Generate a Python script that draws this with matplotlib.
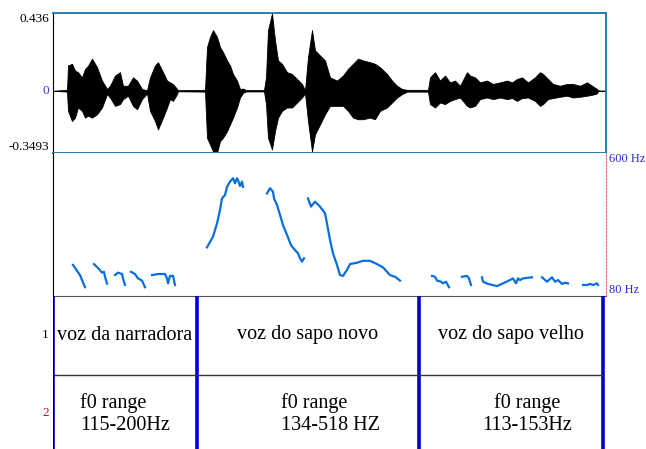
# Waveform + f0 contour + text grid (Praat style picture)

import numpy as np
import matplotlib.pyplot as plt
import matplotlib.transforms as mtransforms

# waveform envelope (time in s, upper / lower amplitude)
wave_t = [0.00, 0.14, 0.15, 0.19, 0.22, 0.25, 0.29, 0.32, 0.35, 0.39, 0.44, 0.49, 0.54, 0.57,
          0.62, 0.67, 0.70, 0.75, 0.80, 0.84, 0.89, 0.94, 0.97, 1.02, 1.05, 1.10, 1.14, 1.17,
          1.20, 1.24, 1.25, 1.52, 1.54, 1.57, 1.60, 1.64, 1.67, 1.70, 1.74, 1.77, 1.80, 1.84,
          1.87, 1.90, 1.93, 2.11, 2.13, 2.15, 2.19, 2.22, 2.25, 2.29, 2.34, 2.39, 2.44, 2.49,
          2.52, 2.55, 2.59, 2.62, 2.67, 2.72, 2.77, 2.84, 2.90, 2.95, 3.00, 3.05, 3.10, 3.17,
          3.22, 3.27, 3.34, 3.39, 3.44, 3.49, 3.54, 3.75, 3.77, 3.82, 3.87, 3.92, 3.97, 4.02,
          4.07, 4.14, 4.17, 4.22, 4.27, 4.34, 4.40, 4.47, 4.54, 4.59, 4.64, 4.69, 4.75, 4.82,
          4.87, 4.90, 4.95, 5.00, 5.07, 5.14, 5.20, 5.27, 5.34, 5.39, 5.44, 5.45, 5.53]
wave_top = [0.0, 0.005, 0.142, 0.151, 0.113, 0.104, 0.075, 0.123, 0.140, 0.180, 0.132, 0.057, 0.010, 0.028,
            0.085, 0.104, 0.028, 0.028, 0.075, 0.057, 0.010, 0.002, 0.075, 0.142, 0.160, 0.104, 0.057, 0.047,
            0.038, 0.010, 0.003, 0.005, 0.245, 0.302, 0.340, 0.302, 0.245, 0.217, 0.170, 0.142, 0.094, 0.057,
            0.010, 0.012, 0.004, 0.004, 0.075, 0.340, 0.434, 0.283, 0.170, 0.151, 0.104, 0.094, 0.066, 0.038,
            0.002, 0.189, 0.340, 0.226, 0.198, 0.170, 0.075, 0.057, 0.085, 0.123, 0.151, 0.180, 0.170, 0.160,
            0.151, 0.132, 0.094, 0.057, 0.028, 0.010, 0.005, 0.005, 0.075, 0.104, 0.057, 0.085, 0.047, 0.057,
            0.028, 0.104, 0.085, 0.075, 0.047, 0.057, 0.038, 0.047, 0.057, 0.047, 0.066, 0.075, 0.047, 0.075,
            0.104, 0.094, 0.066, 0.038, 0.028, 0.038, 0.038, 0.028, 0.047, 0.028, 0.010, 0.002, 0.0]
wave_bot = [0.0, -0.005, -0.113, -0.170, -0.151, -0.094, -0.113, -0.151, -0.140, -0.151, -0.132, -0.094, -0.019, -0.038,
            -0.085, -0.075, -0.047, -0.028, -0.085, -0.104, -0.047, -0.015, -0.113, -0.170, -0.217, -0.151, -0.094, -0.047,
            -0.057, -0.019, -0.003, -0.005, -0.264, -0.302, -0.340, -0.349, -0.283, -0.264, -0.227, -0.189, -0.151, -0.094,
            -0.038, -0.012, -0.004, -0.004, -0.075, -0.264, -0.330, -0.227, -0.151, -0.113, -0.094, -0.094, -0.066, -0.038,
            -0.015, -0.170, -0.340, -0.245, -0.189, -0.132, -0.085, -0.085, -0.085, -0.113, -0.151, -0.160, -0.160, -0.151,
            -0.160, -0.113, -0.094, -0.066, -0.038, -0.019, -0.005, -0.005, -0.075, -0.094, -0.066, -0.075, -0.057, -0.047,
            -0.038, -0.085, -0.094, -0.085, -0.047, -0.038, -0.047, -0.038, -0.047, -0.041, -0.057, -0.041, -0.038, -0.057,
            -0.085, -0.075, -0.047, -0.041, -0.034, -0.028, -0.038, -0.034, -0.028, -0.023, -0.015, -0.002, 0.0]

# f0 contour (Hz), nan = unvoiced gap
nan = np.nan
f0_t = [0.20, 0.27, 0.32, nan,
        0.41, 0.46, 0.49, 0.51, 0.52, 0.54, nan,
        0.62, 0.65, 0.69, 0.70, 0.72, nan,
        0.78, 0.82, 0.85, 0.89, 0.92, nan,
        0.99, 1.05, 1.12, 1.14, 1.15, 1.17, 1.20, 1.22, nan,
        1.54, 1.60, 1.64, 1.67, 1.69, 1.72, 1.74, 1.77, 1.80, 1.82, 1.84, 1.85, 1.87, 1.89, 1.90, nan,
        2.14, 2.17, 2.20, 2.21, 2.24, 2.27, 2.30, 2.34, 2.38, 2.42, 2.45, 2.47, 2.49, 2.50, 2.51, nan,
        2.55, 2.58, 2.62, 2.67, 2.72, 2.74, 2.77, 2.80, 2.84, 2.87, 2.90, 2.94, 2.97, 3.04, 3.10,
        3.17, 3.24, 3.30, 3.37, 3.42, 3.47, nan,
        3.79, 3.82, 3.84, 3.88, 3.90, 3.93, 3.96, nan,
        4.09, 4.14, 4.16, 4.18, nan,
        4.29, 4.30, 4.35, 4.44, 4.50, 4.57, 4.60, 4.63, 4.65, 4.67, 4.70, 4.79, nan,
        4.89, 4.94, 4.99, 5.02, 5.05, 5.09, 5.12, 5.15, nan,
        5.30, 5.34, 5.37, 5.40, 5.44, 5.45]
f0_hz = [193, 156, 112, nan,
         196, 178, 165, 168, 150, 125, nan,
         156, 165, 160, 144, 120, nan,
         168, 160, 144, 136, 112, nan,
         156, 160, 160, 144, 126, 153, 153, 120, nan,
         257, 296, 344, 393, 435, 447, 477, 496, 508, 490, 508, 502, 480, 496, 477, nan,
         453, 472, 459, 435, 411, 375, 338, 302, 265, 247, 235, 217, 205, 211, 217, nan,
         435, 405, 423, 405, 381, 344, 284, 235, 193, 156, 153, 175, 196, 201, 208,
         208, 196, 184, 156, 150, 136, nan,
         153, 150, 136, 132, 126, 132, 112, nan,
         150, 153, 144, 120, nan,
         148, 132, 124, 116, 126, 138, 144, 126, 144, 138, 144, 148, nan,
         148, 132, 148, 132, 138, 124, 128, 126, nan,
         120, 120, 124, 120, 126, 120]

# text grid
bounds = [0.0, 1.44, 3.66, 5.50]
tier1_labels = ["voz da narradora", "voz do sapo novo", "voz do sapo velho"]
tier2_labels = ["f0 range\n115-200Hz", "f0 range\n134-518 HZ", "f0 range\n113-153Hz"]
tier2_x = [0.72, 2.775, 4.745]

TMAX = 5.53
W, H = 646, 449
serif = ["Liberation Serif", "DejaVu Serif"]
teal = "#2a7fa8"

fig = plt.figure(figsize=(W / 100, H / 100), dpi=100)

def px_axes(x0, y0, x1, y1):
    return fig.add_axes([x0 / W, 1 - y1 / H, (x1 - x0) / W, (y1 - y0) / H])

# --- waveform
ax = px_axes(53, 13, 606, 153)
ax.fill_between(wave_t, wave_bot, wave_top, color="black", lw=0.6, edgecolor="black")
ax.axhline(0, color="#222222", lw=0.6, zorder=0)
ax.set_xlim(0, TMAX)
ax.set_ylim(-0.3493, 0.436)
ax.set_xticks([])
ax.set_yticks([])
for s in ["top", "bottom", "right"]:
    ax.spines[s].set_color(teal)
    ax.spines[s].set_linewidth(1.4)
ax.spines["left"].set_color("black")
tr = mtransforms.blended_transform_factory(ax.transAxes, ax.transData)
ax.text(-0.007, 0.436, "0.436", transform=tr, ha="right", va="top", fontsize=9.5, family=serif)
ax.text(-0.007, 0, "0", transform=tr, ha="right", va="center", fontsize=9.5, family=serif, color="#3a3ad0")
ax.text(-0.007, -0.3493, "-0.3493", transform=tr, ha="right", va="bottom", fontsize=9.5, family=serif)

# --- pitch
ax2 = px_axes(53, 153, 606, 296)
ax2.plot(f0_t, f0_hz, color="#0a6fdc", lw=1.6)
ax2.set_xlim(0, TMAX)
ax2.set_ylim(80, 600)
ax2.set_xticks([])
ax2.set_yticks([])
ax2.spines["top"].set_visible(False)
ax2.spines["bottom"].set_color("#555555")
ax2.spines["right"].set_color("#e07070")
ax2.spines["right"].set_linestyle((0, (1.5, 1.5)))
tr2 = mtransforms.blended_transform_factory(ax2.transAxes, ax2.transData)
ax2.text(1.005, 600, "600 Hz", transform=tr2, ha="left", va="top", fontsize=9, family=serif, color="#2a2ad0")
ax2.text(1.005, 80, "80 Hz", transform=tr2, ha="left", va="bottom", fontsize=9, family=serif, color="#2a2ad0")

# --- text grid (y in pixels below the pitch panel)
ax3 = px_axes(53, 296, 606, 449)
ax3.set_xlim(0, TMAX)
ax3.set_ylim(153, 0)
ax3.axis("off")
ax3.vlines(bounds, 0, 153, color="#0000d0", lw=2.6)
ax3.hlines(79, bounds[0], bounds[-1], color="#333333", lw=1)
ax3.axvline(0, color="black", lw=0.8)
mids = [(a + b) / 2 for a, b in zip(bounds[:-1], bounds[1:])]
for xm, lab in zip(mids, tier1_labels):
    ax3.text(xm, 39, lab, ha="center", va="center", fontsize=14.5, family=serif)
for xm, lab, al in zip(tier2_x, tier2_labels, ["left", "left", "center"]):
    ax3.text(xm, 118, lab, ha="center", va="center", multialignment=al,
             fontsize=14.5, family=serif, linespacing=1.15)
tr3 = mtransforms.blended_transform_factory(ax3.transAxes, ax3.transData)
ax3.text(-0.008, 39, "1", transform=tr3, ha="right", va="center", fontsize=9.5, family=serif)
ax3.text(-0.008, 117, "2", transform=tr3, ha="right", va="center", fontsize=9.5, family=serif, color="#b01818")

fig.savefig("out.png", dpi=100)
